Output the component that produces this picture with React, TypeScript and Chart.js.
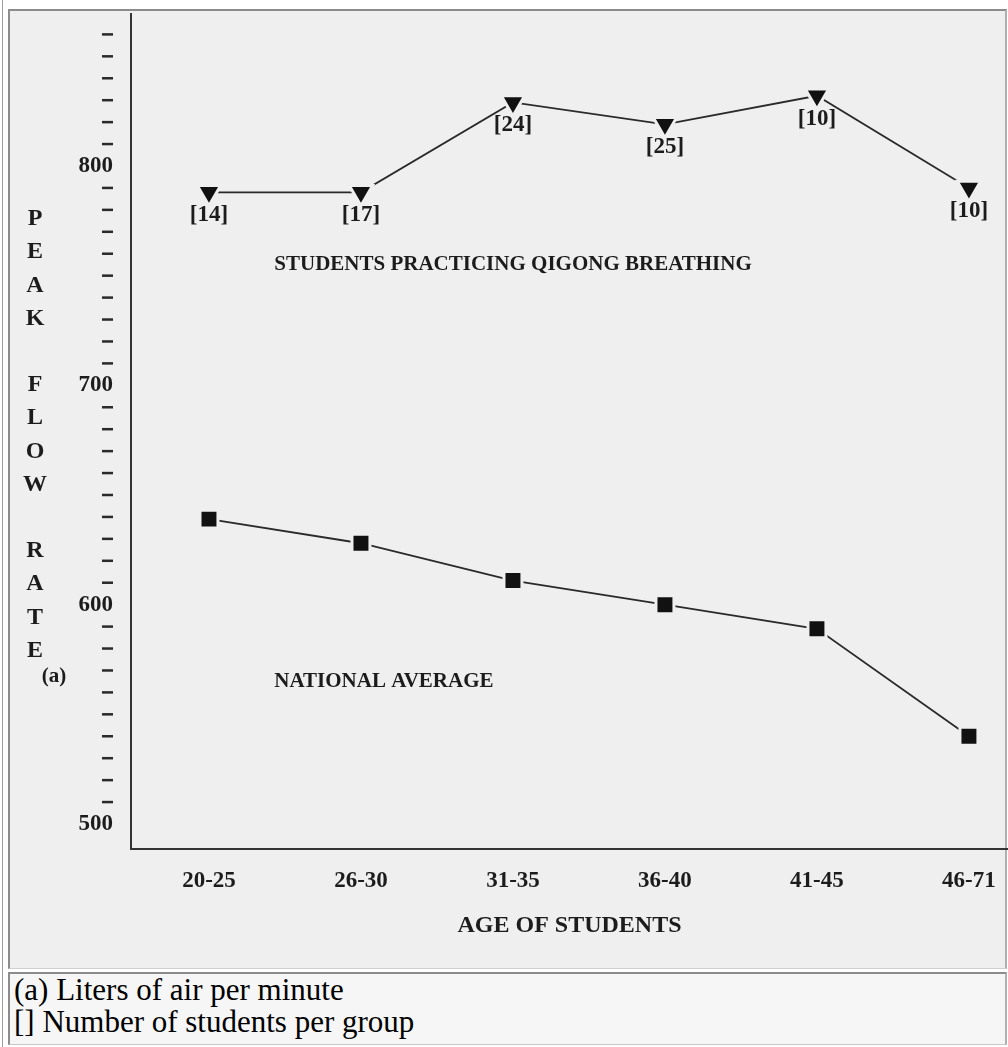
import React, { useEffect, useRef } from 'react';
import { Chart, registerables } from 'chart.js';
Chart.register(...registerables);

const categories = ['20-25', '26-30', '31-35', '36-40', '41-45', '46-71'];
const qigongValues = [788, 788, 829, 819, 832, 790];
const nationalValues = [639, 628, 611, 600, 589, 540];
const groupSizes = [14, 17, 24, 25, 10, 10];
const labeledTicks = [500, 600, 700, 800];
const yTitleLetters = ['P', 'E', 'A', 'K', '', 'F', 'L', 'O', 'W', '', 'R', 'A', 'T', 'E'];
const yTitleNote = '(a)';
const xTitle = 'AGE OF STUDENTS';
const qigongLabel = 'STUDENTS PRACTICING QIGONG BREATHING';
const nationalLabel = 'NATIONAL AVERAGE';
const footnotes = ['(a) Liters of air per minute', '[] Number of students per group'];

const PANEL_BG = '#efefef';
const INK = '#1c1c1c';
const LINE = '#2a2a2a';
const SERIF = '"Liberation Serif", "Times New Roman", serif';

const annotationPlugin = {
  id: 'annotations',
  afterDatasetsDraw(chart: any) {
    const { ctx, scales } = chart;
    const x = scales.x;
    const y = scales.y;
    ctx.save();
    // dash tick marks for the unlabeled y ticks
    ctx.fillStyle = '#2a2a2a';
    y.ticks.forEach((t: any) => {
      const v = Math.round(t.value);
      if (v < 500 || labeledTicks.includes(v)) return;
      const py = y.getPixelForValue(v);
      ctx.fillRect(102, py - 1.25, 11, 2.5);
    });
    ctx.fillStyle = INK;
    ctx.textAlign = 'center';
    ctx.textBaseline = 'middle';
    ctx.font = `bold 23px ${SERIF}`;
    const meta = chart.getDatasetMeta(0);
    meta.data.forEach((pt: any, i: number) => {
      ctx.fillText(`[${groupSizes[i]}]`, pt.x, pt.y + 23);
    });
    ctx.font = `bold 24px ${SERIF}`;
    yTitleLetters.forEach((ch, i) => {
      if (ch) ctx.fillText(ch, 35, 219 + i * 33.2);
    });
    ctx.font = `bold 21px ${SERIF}`;
    ctx.fillText(yTitleNote, 54, 677);
    ctx.textAlign = 'left';
    ctx.font = `bold 21px ${SERIF}`;
    ctx.fillText(qigongLabel, x.getPixelForValue(0.43), y.getPixelForValue(755));
    ctx.fillText(nationalLabel, x.getPixelForValue(0.43), y.getPixelForValue(565));
    ctx.restore();
  },
};

export default function App() {
  const canvasRef = useRef<HTMLCanvasElement | null>(null);

  useEffect(() => {
    const canvas = canvasRef.current;
    if (!canvas) return;
    const tickFont = { family: SERIF, size: 23, weight: 'bold' as const };
    const chart = new Chart(canvas, {
      type: 'line',
      data: {
        datasets: [
          {
            data: qigongValues.map((v, i) => ({ x: i, y: v })),
            borderColor: LINE,
            borderWidth: 1.8,
            pointStyle: 'triangle',
            rotation: 180,
            pointRadius: 13.5,
            pointBackgroundColor: '#111',
            pointBorderColor: PANEL_BG,
            pointBorderWidth: 3,
            tension: 0,
          } as any,
          {
            data: nationalValues.map((v, i) => ({ x: i, y: v })),
            borderColor: LINE,
            borderWidth: 1.8,
            pointStyle: 'rect',
            pointRadius: 12.7,
            pointBackgroundColor: '#111',
            pointBorderColor: PANEL_BG,
            pointBorderWidth: 3,
            tension: 0,
          } as any,
        ],
      },
      options: {
        responsive: false,
        animation: false,
        layout: { autoPadding: false, padding: { top: 14, right: 0, bottom: 0, left: 0 } },
        plugins: {
          legend: { display: false },
          tooltip: { enabled: false },
          title: { display: false },
        },
        scales: {
          x: {
            type: 'linear',
            min: -0.513,
            max: 5.257,
            afterFit: (s: any) => {
              s.height = 1047 - 849;
              s.paddingLeft = 0;
              s.paddingRight = 0;
            },
            grid: { display: false, drawTicks: false },
            border: { display: true, color: '#333', width: 2 },
            ticks: {
              stepSize: 1,
              includeBounds: false,
              autoSkip: false,
              maxRotation: 0,
              padding: 18,
              color: INK,
              font: tickFont,
              callback: (v: any) => {
                const n = Math.round(Number(v));
                return Math.abs(n - Number(v)) < 1e-6 && categories[n] ? categories[n] : '';
              },
            },
            title: {
              display: true,
              text: xTitle,
              color: INK,
              font: { family: SERIF, size: 24, weight: 'bold' },
              padding: { top: 0, bottom: 107 },
            },
          },
          y: {
            type: 'linear',
            min: 488.6,
            max: 869.3,
            afterFit: (s: any) => {
              s.width = 131;
              s.paddingTop = 0;
              s.paddingBottom = 0;
            },
            grid: { display: false, drawTicks: false },
            border: { display: true, color: '#333', width: 2 },
            ticks: {
              stepSize: 10,
              includeBounds: false,
              autoSkip: false,
              padding: 18,
              color: INK,
              font: tickFont,
              callback: (v: any) => {
                const n = Math.round(Number(v));
                return labeledTicks.includes(n) ? String(n) : '';
              },
            },
          },
        },
      } as any,
      plugins: [annotationPlugin],
    });
    return () => chart.destroy();
  }, []);

  return (
    <div
      style={{
        position: 'absolute',
        left: 0,
        top: 0,
        width: 1008,
        height: 1047,
        overflow: 'hidden',
        background: '#ffffff',
      }}
    >
      <div style={{ position: 'absolute', left: 2, top: 0, width: 1, height: 1047, background: '#a0a0a0' }} />
      <div
        style={{
          position: 'absolute',
          left: 8,
          top: 9,
          width: 999,
          height: 960,
          boxSizing: 'border-box',
          background: PANEL_BG,
          borderTop: '2px solid #8c8c8c',
          borderLeft: '2px solid #8c8c8c',
          borderRight: '2px solid #b0b0b0',
          borderBottom: '1px solid #d0d0d0',
        }}
      />
      <canvas
        ref={canvasRef}
        width={1008}
        height={1047}
        style={{ position: 'absolute', left: 0, top: 0, width: 1008, height: 1047 }}
      />
      <div
        style={{
          position: 'absolute',
          left: 8,
          top: 972,
          width: 999,
          height: 73,
          boxSizing: 'border-box',
          background: '#f6f6f6',
          borderTop: '2px solid #8c8c8c',
          borderLeft: '2px solid #8c8c8c',
          borderRight: '2px solid #b0b0b0',
          borderBottom: '1px solid #c8c8c8',
          padding: '0 0 0 4px',
          fontFamily: SERIF,
          fontSize: 31,
          lineHeight: '32px',
          color: '#000',
        }}
      >
        {footnotes.map((f) => (
          <div key={f} style={{ whiteSpace: 'nowrap' }}>
            {f}
          </div>
        ))}
      </div>
    </div>
  );
}
